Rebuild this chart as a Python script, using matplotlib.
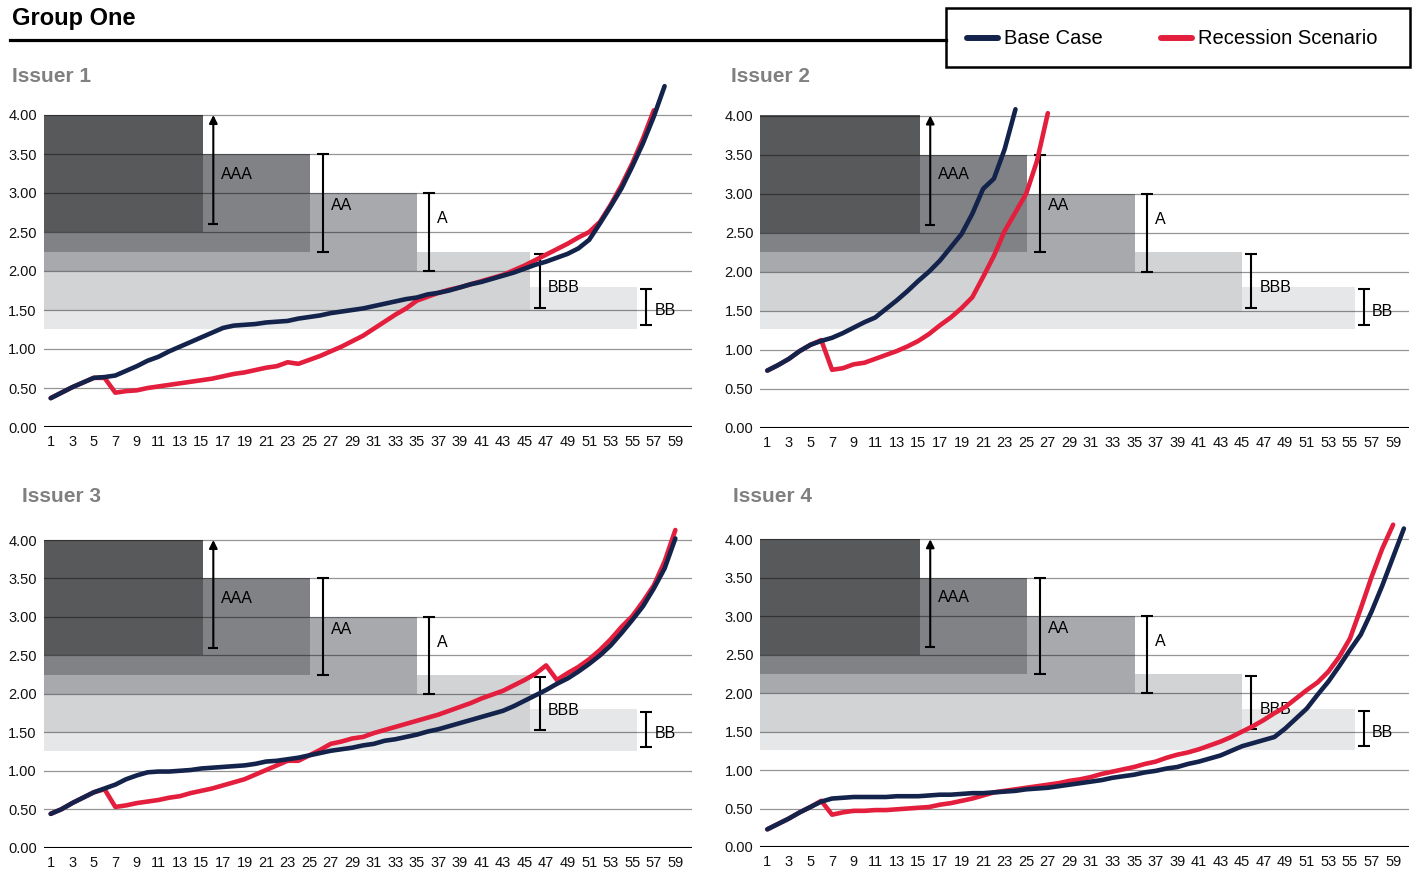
import matplotlib.pyplot as plt
from matplotlib.patches import Rectangle
from matplotlib.lines import Line2D

plt.rcParams['font.family'] = ['Liberation Sans', 'DejaVu Sans']

W, H = 1413, 873

# ---- data ----
issuer1_base = [0.37, 0.44, 0.51, 0.57, 0.63, 0.64, 0.66, 0.72, 0.78, 0.85,
                0.90, 0.97, 1.03, 1.09, 1.15, 1.21, 1.27, 1.30, 1.31, 1.32,
                1.34, 1.35, 1.36, 1.39, 1.41, 1.43, 1.46, 1.48, 1.50, 1.52,
                1.55, 1.58, 1.61, 1.64, 1.66, 1.70, 1.72, 1.75, 1.79, 1.83,
                1.86, 1.90, 1.94, 1.98, 2.03, 2.08, 2.12, 2.17, 2.22, 2.29,
                2.40, 2.61, 2.83, 3.06, 3.34, 3.64, 3.98, 4.37]
issuer1_rec = [0.37, 0.44, 0.51, 0.57, 0.63, 0.63, 0.44, 0.46, 0.47, 0.50,
               0.52, 0.54, 0.56, 0.58, 0.60, 0.62, 0.65, 0.68, 0.70, 0.73,
               0.76, 0.78, 0.83, 0.81, 0.86, 0.91, 0.97, 1.03, 1.10, 1.17,
               1.26, 1.35, 1.44, 1.52, 1.62, 1.67, 1.72, 1.76, 1.79, 1.83,
               1.87, 1.91, 1.95, 2.01, 2.07, 2.14, 2.21, 2.28, 2.35, 2.43,
               2.50, 2.63, 2.85, 3.10, 3.38, 3.70, 4.06]

issuer2_base = [0.73, 0.80, 0.88, 0.98, 1.06, 1.11, 1.15, 1.21, 1.28, 1.35,
                1.41, 1.52, 1.63, 1.75, 1.88, 2.00, 2.14, 2.31, 2.48, 2.74,
                3.06, 3.19, 3.57, 4.08]
issuer2_rec = [0.73, 0.80, 0.88, 0.98, 1.06, 1.12, 0.74, 0.76, 0.81, 0.83,
               0.88, 0.93, 0.98, 1.04, 1.11, 1.20, 1.31, 1.41, 1.53, 1.67,
               1.93, 2.20, 2.52, 2.76, 3.00, 3.42, 4.03]

issuer3_base = [0.44, 0.50, 0.58, 0.65, 0.72, 0.77, 0.82, 0.89, 0.94, 0.98,
                0.99, 0.99, 1.00, 1.01, 1.03, 1.04, 1.05, 1.06, 1.07, 1.09,
                1.12, 1.13, 1.15, 1.17, 1.20, 1.23, 1.26, 1.28, 1.30, 1.33,
                1.35, 1.39, 1.41, 1.44, 1.47, 1.51, 1.54, 1.58, 1.62, 1.66,
                1.70, 1.74, 1.78, 1.84, 1.91, 1.98, 2.05, 2.13, 2.20, 2.29,
                2.39, 2.50, 2.63, 2.79, 2.96, 3.14, 3.37, 3.63, 4.02]
issuer3_rec = [0.44, 0.50, 0.58, 0.65, 0.72, 0.76, 0.53, 0.55, 0.58, 0.60,
               0.62, 0.65, 0.67, 0.71, 0.74, 0.77, 0.81, 0.85, 0.89, 0.95,
               1.01, 1.07, 1.13, 1.13, 1.20, 1.27, 1.35, 1.38, 1.42, 1.44,
               1.49, 1.53, 1.57, 1.61, 1.65, 1.69, 1.73, 1.78, 1.83, 1.88,
               1.94, 1.99, 2.04, 2.11, 2.18, 2.26, 2.37, 2.18, 2.27, 2.35,
               2.45, 2.57, 2.71, 2.87, 3.01, 3.20, 3.41, 3.72, 4.13]

issuer4_base = [0.23, 0.30, 0.37, 0.45, 0.52, 0.59, 0.63, 0.64, 0.65, 0.65,
                0.65, 0.65, 0.66, 0.66, 0.66, 0.67, 0.68, 0.68, 0.69, 0.70,
                0.70, 0.71, 0.72, 0.73, 0.75, 0.76, 0.77, 0.79, 0.81, 0.83,
                0.85, 0.87, 0.90, 0.92, 0.94, 0.97, 0.99, 1.02, 1.04, 1.08,
                1.11, 1.15, 1.19, 1.25, 1.31, 1.35, 1.39, 1.43, 1.54, 1.67,
                1.80, 1.98, 2.15, 2.35, 2.56, 2.76, 3.06, 3.40, 3.77, 4.14]
issuer4_rec = [0.23, 0.30, 0.37, 0.45, 0.52, 0.60, 0.42, 0.45, 0.47, 0.47,
               0.48, 0.48, 0.49, 0.50, 0.51, 0.52, 0.55, 0.57, 0.60, 0.63,
               0.67, 0.71, 0.73, 0.75, 0.77, 0.79, 0.81, 0.83, 0.86, 0.88,
               0.91, 0.95, 0.98, 1.01, 1.04, 1.08, 1.11, 1.16, 1.20, 1.23,
               1.27, 1.32, 1.37, 1.43, 1.50, 1.57, 1.65, 1.74, 1.82, 1.93,
               2.04, 2.14, 2.28, 2.47, 2.71, 3.10, 3.51, 3.88, 4.19]

# rating bands
ratings = ['AAA', 'AA', 'A', 'BBB', 'BB']
band_low = [2.5, 2.25, 2.0, 1.5, 1.26]
band_high = [4.0, 3.5, 3.0, 2.25, 1.8]
band_end = [15.15, 25.1, 35.05, 45.5, 55.45]
bbb_end = [45.5, 44.95, 45.5, 44.95]
bar_low = [2.6, 2.25, 2.0, 1.53, 1.31]
bar_high = [4.0, 3.5, 3.0, 2.22, 1.77]
label_y = [3.24, 2.84, 2.67, 1.79, 1.49]

# styles
band_colors = ['#58595b', '#808285', '#a7a9ac', '#d1d3d4', '#e6e7e8']
bar_offset = [0.95, 1.15, 1.1, 0.9, 0.85]
navy = '#13234b'
red = '#e31f3d'

# panel name, data, title position (px), axes box in px: left, right, y of 0, y of 4
panels = [
    ('Issuer 1', issuer1_base, issuer1_rec, (12, 76), (43.7, 691.5, 427, 115)),
    ('Issuer 2', issuer2_base, issuer2_rec, (731, 76), (760.3, 1409.3, 427.5, 115.5)),
    ('Issuer 3', issuer3_base, issuer3_rec, (22, 496), (43.7, 691.5, 847.7, 540)),
    ('Issuer 4', issuer4_base, issuer4_rec, (733, 496), (760.3, 1409.3, 847, 539.3)),
]

x_lo, x_hi = 0.35, 60.5
y_top = 4.45

fig = plt.figure(figsize=(W / 100, H / 100), dpi=100)

for p, (name, base, rec, tpos, box) in enumerate(panels):
    left, right, y0, y4 = box
    unit = (y0 - y4) / 4.0
    top_px = y0 - y_top * unit
    ax = fig.add_axes([left / W, 1 - y0 / H, (right - left) / W, (y0 - top_px) / H])
    ax.set_xlim(x_lo, x_hi)
    ax.set_ylim(0, y_top)

    ends = list(band_end)
    ends[3] = bbb_end[p]
    for i in reversed(range(len(ratings))):
        ax.add_patch(Rectangle((x_lo, band_low[i]), ends[i] - x_lo,
                               band_high[i] - band_low[i],
                               facecolor=band_colors[i], edgecolor='none', zorder=1))

    # grid lines above the bands
    for yv in [0.5, 1.0, 1.5, 2.0, 2.5, 3.0, 3.5, 4.0]:
        ax.axhline(yv, color='black', alpha=0.42, lw=0.9, zorder=1.5)
    ax.axhline(0, color='black', lw=1.5, zorder=2)

    # rating range markers
    for i, r in enumerate(ratings):
        bx = ends[i] + bar_offset[i]
        if r == 'AAA':
            ax.annotate('', xy=(bx, bar_high[i]), xytext=(bx, bar_low[i]),
                        arrowprops=dict(arrowstyle='-|>', color='black', lw=1.5,
                                        mutation_scale=12, shrinkA=0, shrinkB=0),
                        zorder=2)
            ax.plot([bx], [bar_low[i]], marker='_', ms=7, mew=1.5, color='black', zorder=2)
        else:
            mid = (bar_low[i] + bar_high[i]) / 2
            ax.errorbar([bx], [mid], yerr=[(bar_high[i] - bar_low[i]) / 2], fmt='none',
                        ecolor='black', elinewidth=1.5, capsize=4, capthick=1.5, zorder=2)
        ax.text(bx + 0.75, label_y[i], r, fontsize=11.5, va='center', ha='left', zorder=2.5)

    ax.plot(range(1, len(rec) + 1), rec, color=red, lw=3.3,
            solid_capstyle='round', solid_joinstyle='round', zorder=4)
    ax.plot(range(1, len(base) + 1), base, color=navy, lw=3.3,
            solid_capstyle='round', solid_joinstyle='round', zorder=5)

    ax.set_yticks([0, 0.5, 1.0, 1.5, 2.0, 2.5, 3.0, 3.5, 4.0])
    ax.set_yticklabels(['%.2f' % v for v in ax.get_yticks()])
    ax.set_xticks(range(1, 60, 2))
    ax.set_xticklabels([str(k) for k in range(1, 60, 2)])
    ax.tick_params(axis='both', length=0, labelsize=10.5, colors='#111111')
    ax.tick_params(axis='y', pad=5)
    ax.tick_params(axis='x', pad=6)
    for s in ax.spines.values():
        s.set_visible(False)
    ax.patch.set_alpha(0)

    fig.text(tpos[0] / W, 1 - tpos[1] / H, name, fontsize=15, fontweight='bold',
             color='#808080', ha='left', va='center')

# header
fig.text(12 / W, 1 - 18 / H, 'Group One', fontsize=17, fontweight='bold',
         ha='left', va='center')
fig.add_artist(Line2D([10 / W, 946 / W], [1 - 40 / H, 1 - 40 / H],
                      color='black', lw=2.3, transform=fig.transFigure))

# legend box
fig.add_artist(Rectangle((946 / W, 1 - 67 / H), 464 / W, 59 / H, fill=False,
                         edgecolor='black', lw=1.8, transform=fig.transFigure))
for x0, x1, tx, col, lab in [(967, 998, 1004, navy, 'Base Case'),
                             (1161, 1192, 1198, red, 'Recession Scenario')]:
    fig.add_artist(Line2D([x0 / W, x1 / W], [1 - 38 / H, 1 - 38 / H], color=col,
                          lw=4.3, solid_capstyle='round', transform=fig.transFigure))
    fig.text(tx / W, 1 - 38 / H, lab, fontsize=14.5, ha='left', va='center')

fig.savefig('out.png', dpi=100)
